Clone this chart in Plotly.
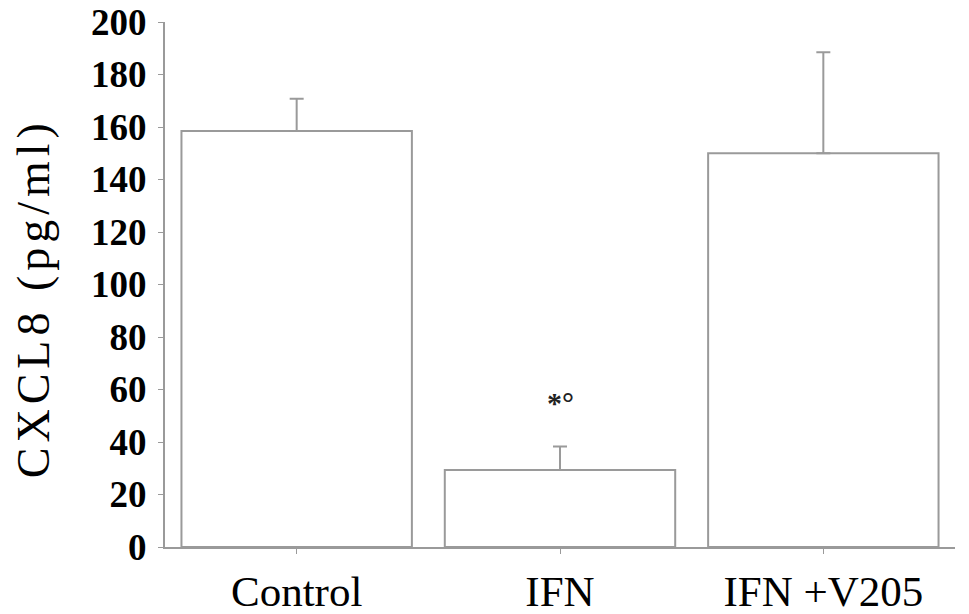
import plotly.graph_objects as go

groups = ['Control', 'IFN', 'IFN +V205']
cxcl8 = [158.5, 29.3, 150.0]
sd_up = [12.3, 9.0, 38.5]
marks = ['', '*°', '']
mark_y = [None, 55, None]

grey = '#9a9a9a'

fig = go.Figure(go.Bar(
    x = groups,
    y = cxcl8,
    width = 0.875,
    marker = dict(color = 'white', line = dict(color = grey, width = 2)),
    error_y = dict(type = 'data', symmetric = False, array = sd_up,
                   arrayminus = [0, 0, 0], color = grey, thickness = 2, width = 7),
))

for g, m, my in zip(groups, marks, mark_y):
    if m:
        fig.add_annotation(x = g, y = my, text = '<b>' + m + '</b>', showarrow = False,
                           font = dict(family = 'Liberation Serif', size = 30, color = '#222'))

# y title as an annotation so it can sit a little below the plot centre, as in the original
fig.add_annotation(
    x = -0.167, y = 0.474, xref = 'paper', yref = 'paper',
    xanchor = 'center', yanchor = 'middle', textangle = -90, showarrow = False,
    text = '<span style="letter-spacing:5px">CXCL8 (pg/ml)</span>',
    font = dict(family = 'Liberation Serif', size = 46, color = 'black'),
)

fig.update_layout(
    width = 969, height = 614,
    paper_bgcolor = 'white', plot_bgcolor = 'white',
    margin = dict(l = 165, r = 14, t = 22, b = 67),
    showlegend = False,
    font = dict(family = 'Liberation Serif', color = 'black'),
    xaxis = dict(
        automargin = False,
        showline = True, linecolor = grey, linewidth = 2,
        ticks = 'outside', ticklen = 5, tickcolor = grey, tickwidth = 1,
        tickfont = dict(size = 43),
        range = [-0.5, 2.5],
    ),
    yaxis = dict(
        automargin = False,
        range = [0, 200], dtick = 20,
        showline = True, linecolor = grey, linewidth = 2,
        ticks = 'outside', ticklen = 5, tickcolor = grey, tickwidth = 1,
        ticklabelstandoff = 4,
        tickfont = dict(size = 37, family = 'Liberation Serif', weight = 'bold'),
        showgrid = False, zeroline = False,
    ),
)

# drop the default body margin so the figure starts at the window corner
fig.write_html('out.html', config = {'displayModeBar': False},
               post_script = "document.body.style.margin = '0';")
